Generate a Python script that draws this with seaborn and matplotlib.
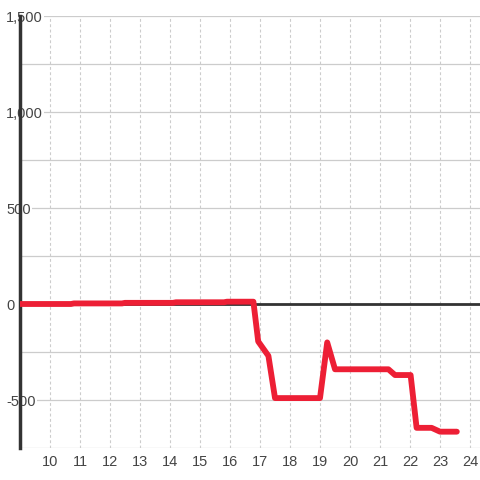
import matplotlib
matplotlib.use("Agg")
import matplotlib.pyplot as plt
import matplotlib.ticker as mticker
import seaborn as sns
import pandas as pd

# ── Data ─────────────────────────────────────────────────────────────────────
hours = [9.0, 10.7, 10.8, 12.4, 12.5, 14.1, 14.2, 15.8, 15.9, 16.78, 16.94,
         17.28, 17.5, 19.0, 19.24, 19.5, 21.28, 21.5, 22.02, 22.22, 22.72,
         23.0, 23.56]
values = [0, 0, 3, 3, 6, 6, 9, 9, 12, 12, -195, -270, -490, -490, -200, -340,
          -340, -370, -370, -645, -645, -665, -665]
y_ticks = [-500, 0, 500, 1000, 1500]
x_ticks = list(range(10, 25))

RED = "#ED1F35"
DARK = "#333333"
GRID = "#CCCCCC"

df = pd.DataFrame({"hour": hours, "value": values})

sns.set_style("white")
plt.rcParams["font.family"] = ["Liberation Sans", "DejaVu Sans"]

fig = plt.figure(figsize=(4.8, 4.8), dpi=100)
ax = fig.add_axes([20 / 480, 32 / 480, 460 / 480, 432 / 480])

ax.axhline(0, color=DARK, linewidth=2, zorder=2)
sns.lineplot(data=df, x="hour", y="value", color=RED, linewidth=4.2,
             ax=ax, zorder=3)

ax.set_xlim(9, 24.333)
ax.set_ylim(-750, 1500)
ax.set_xticks(x_ticks)
ax.set_yticks(y_ticks)
ax.yaxis.set_minor_locator(mticker.MultipleLocator(250))
ax.yaxis.set_major_formatter(mticker.FuncFormatter(lambda v, _: f"{v:,.0f}"))

ax.grid(axis="y", which="both", color=GRID, linewidth=0.9, linestyle="-")
ax.grid(axis="x", which="major", color=GRID, linewidth=0.8,
        linestyle=(0, (2.6, 2.2)))
ax.set_axisbelow(True)

for s in ["top", "right", "bottom"]:
    ax.spines[s].set_visible(False)
ax.spines["left"].set_color(DARK)
ax.spines["left"].set_linewidth(2.5)
ax.spines["left"].set_zorder(1)

ax.tick_params(axis="both", which="both", length=0, labelsize=10.5,
               labelcolor="#444444")
ax.tick_params(axis="x", pad=5)
ax.tick_params(axis="y", pad=10)
for lbl in ax.get_yticklabels():
    lbl.set_horizontalalignment("left")
    lbl.set_bbox(dict(facecolor="white", edgecolor="none", pad=1))
    lbl.set_zorder(5)

ax.set_xlabel("")
ax.set_ylabel("")

fig.savefig("out.png", dpi=100, facecolor="white")
